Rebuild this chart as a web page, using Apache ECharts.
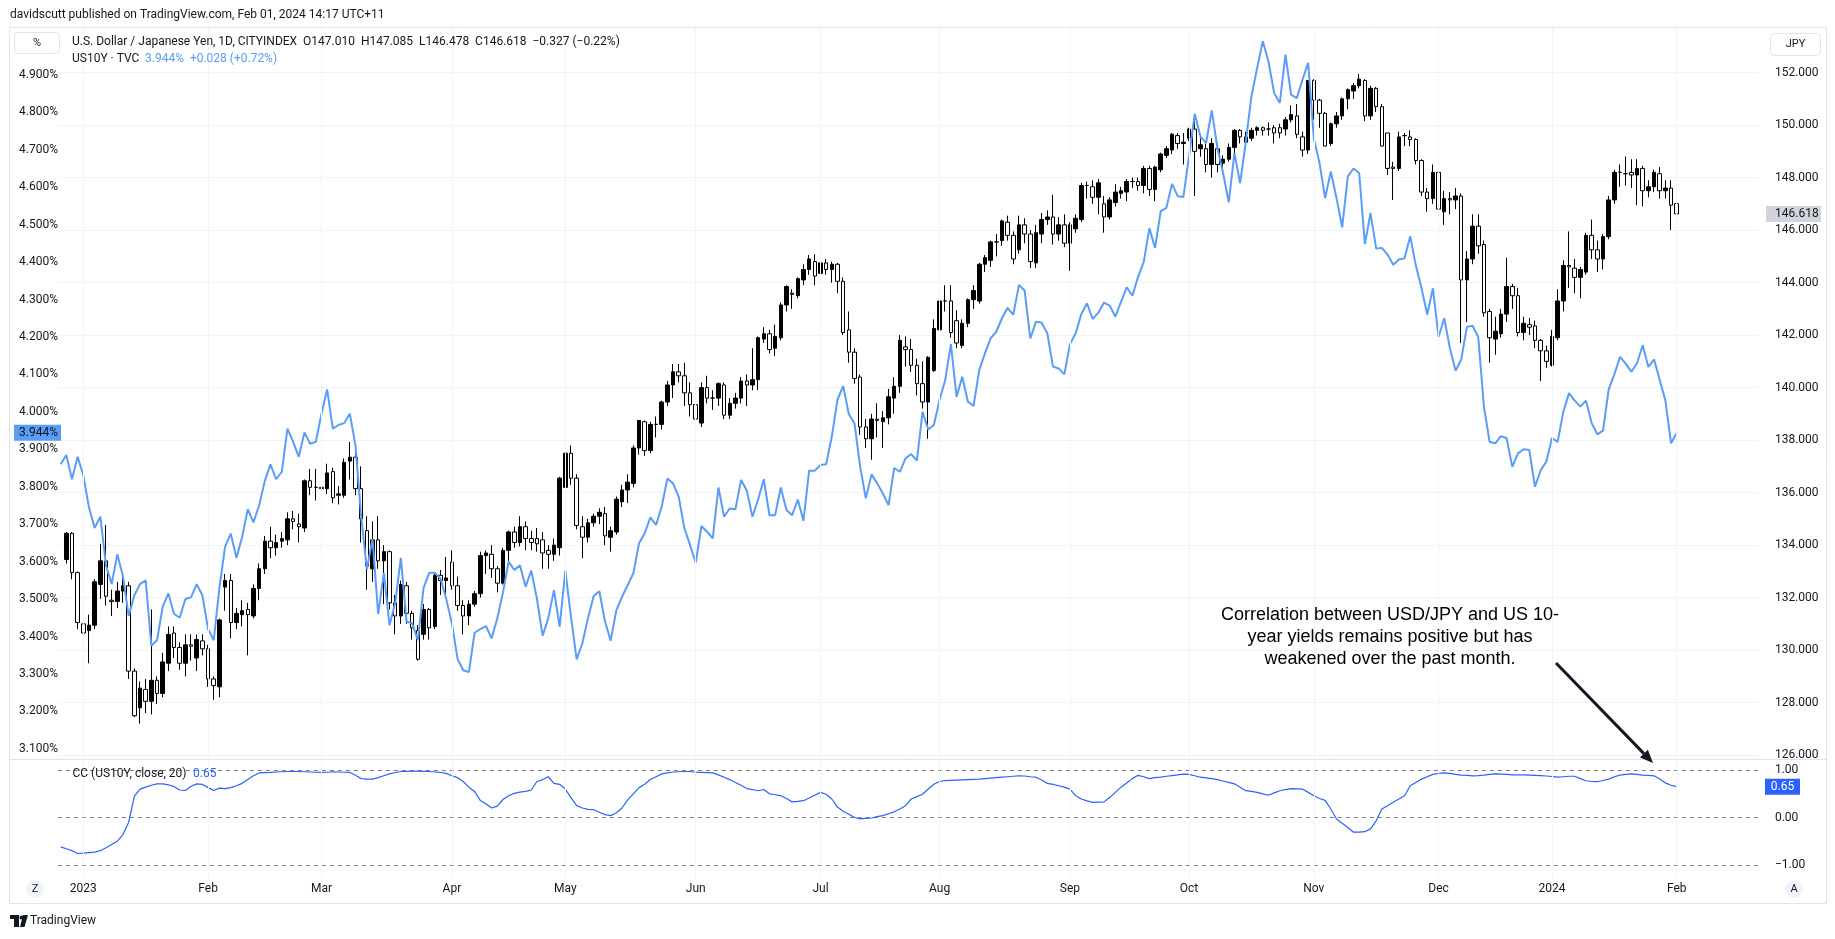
<!DOCTYPE html>
<html><head><meta charset="utf-8">
<script src="https://cdn.jsdelivr.net/npm/echarts@6/dist/echarts.min.js"></script>
<style>html,body{margin:0;padding:0;background:#fff}#c{width:1835px;height:939px}</style>
</head><body><div id="c"></div>
<script>
// ---------- DATA ----------
const firstDate = '2022-12-27';
const categoryCount = 300;
const skipDates = ['2023-12-25', '2024-01-01'];
const monthNames = ['Jan','Feb','Mar','Apr','May','Jun','Jul','Aug','Sep','Oct','Nov','Dec'];
const jpyTicks = [126,128,130,132,134,136,138,140,142,144,146,148,150,152];

// USD/JPY daily candles from 2022-12-28
const jpyOpen = [133.45,134.45,132.95,131.0,130.75,130.95,132.5,133.4,131.9,131.85,
132.25,132.45,129.2,127.8,128.5,128.05,128.85,128.35,129.5,130.65,
130.1,129.5,130.2,129.7,130.35,130.05,128.9,128.6,132.4,132.65,
131.05,131.35,131.55,131.3,132.35,133.1,134.15,133.9,134.15,134.2,
135.0,134.8,134.65,136.45,136.2,136.2,136.15,136.8,135.9,135.9,
137.2,137.35,136.15,134.55,133.1,134.2,133.4,133.75,131.8,131.3,
132.45,131.4,130.75,130.6,131.55,130.9,132.85,132.65,133.35,132.45,
131.7,131.3,131.75,132.15,133.6,133.65,133.1,132.55,133.8,134.5,
134.1,134.7,134.25,134.25,134.2,133.8,133.65,133.9,136.2,137.5,
136.55,134.7,134.3,134.85,135.1,135.2,134.3,134.5,135.65,136.1,
136.35,137.7,138.7,137.6,138.6,138.6,139.45,140.1,140.6,140.45,
139.8,139.35,138.65,140.0,139.6,139.6,140.1,138.95,139.4,139.6,
140.25,140.1,140.3,141.85,142.05,141.5,141.9,143.15,143.6,143.5,
144.1,144.5,144.8,144.35,144.75,144.5,144.7,144.05,142.2,141.35,
140.4,138.5,138.05,138.8,138.7,138.85,139.6,140.05,141.55,141.45,
140.85,140.15,139.45,140.65,142.2,143.3,143.3,142.55,141.6,142.45,
143.35,143.3,144.7,144.85,145.55,145.6,146.3,145.8,145.25,146.2,
145.85,144.75,145.85,146.4,146.5,145.85,146.2,145.5,146.05,146.4,
147.7,147.65,147.25,147.0,146.5,147.05,147.4,147.45,147.85,147.85,
147.7,148.35,147.55,148.3,148.85,149.05,149.6,149.3,149.5,149.85,
149.1,149.1,148.5,149.1,148.55,148.7,149.15,149.8,149.35,149.5,
149.8,149.9,149.85,149.9,149.9,149.85,150.2,150.35,149.55,149.05,
151.7,150.95,150.45,149.3,150.05,150.35,151.0,151.3,151.5,151.7,
150.35,151.4,150.7,149.7,148.4,148.35,149.6,149.55,149.45,148.65,
147.45,147.2,148.2,146.7,147.2,147.15,147.3,144.1,144.9,146.15,
145.45,142.9,141.85,142.05,142.8,143.85,143.5,142.1,142.4,142.35,
141.8,141.4,140.85,141.9,143.3,144.65,144.55,144.2,144.4,145.8,
145.25,144.9,145.75,147.15,148.2,148.15,148.2,148.1,148.35,147.5,
147.65,148.15,147.5,147.6,147.01];
const jpyClose = [134.45,132.95,131.05,130.65,130.95,132.6,133.4,132.05,131.85,132.25,
132.45,129.2,127.5,128.55,128.05,128.85,128.35,129.55,130.6,130.1,
129.5,130.2,130.15,130.4,130.05,128.9,128.65,131.15,132.65,131.05,
131.4,131.5,131.35,132.35,133.1,134.15,133.9,134.1,134.25,135.0,
134.9,134.7,136.45,136.2,136.2,136.15,136.75,135.8,135.95,137.15,
137.35,136.15,135.0,133.2,134.2,133.4,133.75,131.8,131.3,132.5,
131.4,130.85,129.65,131.55,130.85,132.85,132.65,132.75,132.45,131.7,
131.3,131.75,132.15,133.6,133.7,133.1,132.55,133.8,134.5,134.1,
134.7,134.25,134.1,134.05,133.7,133.65,134.0,136.55,137.5,136.55,
134.75,134.3,134.85,135.1,135.25,134.35,134.55,135.75,136.1,136.4,
137.7,138.75,137.6,138.6,138.6,139.45,140.1,140.6,140.45,139.8,
139.35,138.8,140.0,139.6,139.6,140.15,138.95,139.4,139.6,140.25,
140.1,140.3,141.9,142.05,141.45,141.95,143.15,143.85,143.55,144.15,
144.5,144.9,144.25,144.75,144.5,144.7,144.05,142.1,141.35,140.35,
138.5,138.05,138.8,138.75,138.85,139.65,140.05,141.8,141.45,140.85,
140.15,139.45,141.15,142.25,143.3,143.3,142.1,141.7,142.45,143.35,
143.7,144.7,144.95,145.55,145.55,146.35,145.8,144.9,146.2,145.85,
144.8,145.9,146.4,146.5,145.85,146.2,145.5,146.2,146.45,147.7,
147.7,147.25,147.8,146.5,147.15,147.45,147.5,147.85,147.85,147.7,
148.35,147.55,148.4,148.9,149.1,149.65,149.3,149.35,149.85,149.0,
149.25,148.5,149.3,148.5,148.7,149.15,149.8,149.55,149.55,149.8,
149.9,149.8,149.85,149.7,149.7,150.2,150.4,149.65,149.05,151.7,
150.95,150.45,149.2,150.05,150.35,151.0,151.35,151.5,151.75,150.35,
151.4,150.7,149.2,148.35,148.35,149.55,149.6,149.45,148.65,147.45,
147.2,148.2,146.8,147.2,147.15,147.3,144.1,144.9,146.15,145.4,
142.85,141.9,142.15,142.8,143.85,143.5,142.1,142.45,142.3,141.8,
141.4,141.0,141.95,143.3,144.65,144.6,144.2,144.5,145.8,145.25,
144.9,145.75,147.15,148.2,148.2,148.15,148.1,148.35,147.5,147.65,
148.2,147.5,147.6,146.95,146.618];
const jpyLow = [133.3,132.7,130.8,130.5,129.5,130.8,131.95,131.7,131.3,131.6,
131.8,128.9,127.45,127.2,127.6,127.55,127.95,128.2,129.2,129.7,
129.25,129.0,129.6,129.2,129.8,128.6,128.1,128.2,131.5,130.45,
130.8,130.9,129.8,131.2,131.9,132.9,133.5,133.6,133.9,134.0,
134.6,134.1,134.5,135.9,135.7,135.3,135.95,135.6,135.55,135.8,
136.5,135.9,134.1,132.3,132.6,133.1,131.75,131.55,130.6,131.0,
131.0,130.4,129.6,130.4,130.4,130.8,132.1,132.1,132.3,131.5,
130.6,130.95,131.65,132.0,132.9,132.75,132.2,132.5,133.4,133.9,
133.95,133.8,133.8,133.75,133.1,133.1,133.4,133.6,136.1,136.3,
134.6,133.5,134.1,134.7,134.8,134.0,133.75,134.4,135.45,135.6,
136.2,137.45,137.4,137.5,138.1,138.4,139.3,139.6,140.2,139.3,
138.9,138.45,138.5,139.4,139.15,139.3,138.8,138.8,139.2,139.4,
139.3,139.9,139.9,141.7,141.3,141.2,141.8,142.9,143.0,143.4,
143.9,144.3,143.9,144.2,144.3,144.0,143.6,142.0,140.95,140.15,
138.2,137.7,137.25,138.1,137.7,138.6,139.0,139.8,140.8,140.6,
139.7,139.2,138.05,140.6,142.0,142.9,141.9,141.5,141.5,142.3,
143.0,143.2,144.4,144.6,145.0,145.4,145.6,144.7,145.1,145.5,
144.55,144.55,145.5,146.2,145.45,145.6,145.35,144.45,145.9,146.3,
147.2,147.0,146.6,145.9,146.4,146.9,147.2,147.1,147.6,147.5,
147.4,147.3,147.1,148.2,148.75,148.9,149.1,148.5,149.4,147.3,
148.8,148.2,148.0,148.2,148.2,148.6,148.9,149.3,149.2,149.4,
149.6,149.6,149.6,149.3,149.5,149.6,150.1,149.5,148.8,148.9,
150.2,149.9,149.2,149.2,149.9,150.2,150.6,151.0,151.4,150.15,
150.2,150.5,149.2,148.1,147.15,148.25,149.2,149.2,148.5,147.3,
146.7,147.0,146.5,146.2,146.6,146.8,141.7,142.5,144.7,145.1,
142.7,140.95,141.25,141.9,142.5,143.0,141.95,141.8,142.0,141.5,
140.25,140.75,140.8,141.8,142.9,143.8,143.6,143.4,144.3,144.9,
144.4,144.5,145.65,147.0,147.65,147.7,147.6,146.95,146.9,147.25,
147.45,147.2,147.2,146.0,146.478];
const jpyHigh = [134.5,134.5,133.0,131.1,131.35,132.7,134.05,134.77,132.3,132.6,
132.9,132.6,129.3,128.8,128.9,131.55,129.0,129.9,130.9,130.9,
130.3,130.6,130.6,130.6,130.6,130.2,129.0,131.2,132.9,132.9,
131.6,131.9,131.8,132.5,133.3,134.35,134.7,134.4,134.5,135.25,
135.3,135.2,136.5,136.9,136.9,137.05,137.1,136.95,136.25,137.3,
137.93,137.6,137.0,135.1,134.9,135.1,134.0,133.8,132.1,132.65,
132.6,131.5,130.95,131.75,131.6,132.95,133.05,133.55,133.8,132.8,
131.9,131.9,132.25,133.75,133.8,134.0,133.2,133.9,134.55,134.7,
135.1,134.9,134.55,134.65,134.5,134.0,134.25,136.6,137.75,137.8,
136.7,135.1,135.0,135.2,135.4,135.45,134.7,135.85,136.3,136.7,
137.8,138.75,138.75,138.7,138.9,139.5,140.25,140.9,140.9,140.95,
140.2,139.6,140.2,140.45,139.9,140.2,140.2,139.6,139.8,140.4,
140.5,141.5,141.95,142.3,142.2,142.4,143.25,143.9,143.75,144.2,
144.7,145.05,145.08,144.9,144.9,144.8,144.75,144.2,142.9,141.5,
140.5,138.8,139.0,139.4,139.1,139.95,140.4,142.0,141.95,141.85,
141.1,141.0,141.2,142.6,143.55,143.9,143.9,142.95,142.6,143.4,
143.9,144.75,145.05,145.6,145.85,146.4,146.55,145.95,146.55,146.45,
146.0,146.2,146.65,146.75,147.35,146.5,146.6,146.3,146.6,147.8,
147.85,147.9,147.95,147.3,147.25,147.75,147.65,147.95,148.0,148.0,
148.45,148.45,148.45,148.95,149.2,149.7,149.7,149.7,149.9,150.15,
149.5,149.3,149.5,149.3,148.85,149.3,149.85,149.85,149.75,149.9,
149.95,149.95,150.1,150.0,150.05,150.3,150.75,150.8,149.75,151.7,
151.75,151.0,150.5,150.1,150.5,151.05,151.4,151.6,151.95,151.75,
151.5,151.45,150.8,149.7,148.6,149.75,149.7,149.8,149.5,148.7,
147.6,148.5,148.3,147.5,147.45,147.6,147.4,145.2,146.6,146.6,
145.6,143.0,142.7,143.0,144.95,143.95,143.8,142.7,142.65,142.55,
141.85,141.6,142.2,143.75,144.85,145.95,144.9,144.6,145.9,146.4,
145.6,145.85,147.3,148.3,148.5,148.8,148.7,148.7,148.45,147.9,
148.3,148.4,147.9,147.9,147.085];

// US10Y close (%) from 2022-12-27
const us10y = [3.86,3.885,3.82,3.88,3.83,3.745,3.69,3.72,3.59,3.54,
3.62,3.56,3.455,3.51,3.54,3.55,3.375,3.39,3.48,3.515,
3.46,3.45,3.50,3.505,3.54,3.51,3.42,3.39,3.53,3.64,
3.675,3.61,3.665,3.74,3.705,3.75,3.815,3.86,3.82,3.84,
3.955,3.92,3.88,3.945,3.915,3.92,3.995,4.06,3.955,3.965,
3.97,3.995,3.91,3.72,3.58,3.66,3.46,3.57,3.43,3.49,
3.61,3.44,3.435,3.39,3.53,3.57,3.57,3.555,3.50,3.435,
3.34,3.31,3.305,3.41,3.42,3.428,3.395,3.448,3.517,3.60,
3.578,3.59,3.533,3.576,3.50,3.402,3.449,3.524,3.426,3.576,
3.453,3.339,3.382,3.449,3.508,3.521,3.44,3.389,3.47,3.506,
3.537,3.569,3.649,3.676,3.718,3.698,3.747,3.822,3.809,3.773,
3.689,3.644,3.597,3.695,3.68,3.662,3.798,3.72,3.742,3.74,
3.818,3.79,3.72,3.766,3.82,3.724,3.724,3.798,3.738,3.724,
3.766,3.709,3.843,3.843,3.858,3.86,3.934,4.033,4.069,3.994,
3.969,3.853,3.769,3.833,3.809,3.782,3.751,3.85,3.84,3.876,
3.887,3.87,4.0,3.953,3.965,4.032,4.085,4.181,4.04,4.094,
4.027,4.016,4.112,4.156,4.196,4.214,4.25,4.278,4.259,4.339,
4.324,4.196,4.241,4.238,4.21,4.121,4.116,4.10,4.181,4.21,
4.261,4.29,4.248,4.265,4.292,4.284,4.254,4.294,4.333,4.31,
4.36,4.40,4.49,4.438,4.536,4.545,4.609,4.576,4.574,4.683,
4.796,4.736,4.718,4.805,4.705,4.638,4.56,4.691,4.611,4.72,
4.843,4.918,4.99,4.936,4.852,4.825,4.954,4.847,4.838,4.887,
4.932,4.731,4.665,4.571,4.642,4.571,4.493,4.629,4.65,4.638,
4.448,4.531,4.436,4.438,4.42,4.393,4.407,4.41,4.469,4.39,
4.33,4.26,4.33,4.20,4.25,4.17,4.11,4.14,4.227,4.23,
4.20,4.014,3.92,3.916,3.935,3.93,3.853,3.889,3.90,3.898,
3.80,3.844,3.867,3.93,3.92,4.0,4.05,4.03,4.014,4.03,
3.97,3.94,3.95,4.06,4.10,4.147,4.129,4.107,4.13,4.178,
4.12,4.14,4.085,4.03,3.916,3.944];

// CC (US10Y, close, 20) from 2022-12-27
const cc20 = [-0.62,-0.66,-0.70,-0.76,-0.75,-0.74,-0.73,-0.70,-0.64,-0.57,
-0.50,-0.36,-0.10,0.45,0.60,0.64,0.68,0.71,0.71,0.69,
0.65,0.58,0.57,0.66,0.71,0.70,0.63,0.57,0.62,0.61,
0.63,0.67,0.72,0.80,0.88,0.94,0.945,0.95,0.96,0.965,
0.97,0.97,0.97,0.965,0.96,0.955,0.95,0.955,0.965,0.96,
0.955,0.95,0.89,0.82,0.81,0.81,0.84,0.88,0.92,0.95,
0.97,0.975,0.98,0.98,0.975,0.97,0.96,0.95,0.93,0.88,
0.84,0.76,0.64,0.55,0.36,0.29,0.20,0.24,0.38,0.46,
0.51,0.535,0.55,0.58,0.76,0.80,0.86,0.72,0.70,0.60,
0.42,0.25,0.20,0.17,0.165,0.11,0.06,0.04,0.10,0.20,
0.37,0.50,0.63,0.70,0.80,0.86,0.92,0.94,0.96,0.965,
0.97,0.97,0.955,0.95,0.945,0.94,0.90,0.85,0.80,0.74,
0.68,0.61,0.59,0.565,0.59,0.50,0.48,0.46,0.40,0.33,
0.34,0.355,0.41,0.47,0.53,0.49,0.39,0.22,0.13,0.07,
0.00,-0.03,-0.02,-0.01,0.02,0.04,0.08,0.12,0.18,0.25,
0.39,0.44,0.49,0.60,0.70,0.76,0.78,0.785,0.79,0.795,
0.80,0.805,0.81,0.82,0.83,0.84,0.85,0.86,0.87,0.88,
0.875,0.86,0.85,0.79,0.72,0.70,0.67,0.64,0.60,0.46,
0.39,0.35,0.32,0.325,0.33,0.42,0.53,0.64,0.73,0.82,
0.89,0.86,0.82,0.84,0.85,0.87,0.885,0.90,0.915,0.91,
0.88,0.85,0.835,0.82,0.80,0.77,0.74,0.71,0.64,0.565,
0.55,0.53,0.50,0.47,0.52,0.565,0.59,0.61,0.605,0.60,
0.53,0.46,0.40,0.36,0.18,-0.03,-0.12,-0.21,-0.31,-0.31,
-0.30,-0.24,-0.07,0.18,0.25,0.32,0.39,0.46,0.67,0.74,
0.81,0.86,0.91,0.93,0.94,0.93,0.91,0.895,0.89,0.88,
0.885,0.895,0.91,0.92,0.915,0.91,0.90,0.90,0.90,0.895,
0.89,0.885,0.875,0.865,0.85,0.86,0.87,0.87,0.82,0.775,
0.76,0.755,0.78,0.81,0.86,0.895,0.91,0.92,0.91,0.895,
0.89,0.88,0.81,0.73,0.68,0.65];

// ---------- BUILD ----------
function buildDates() {
  const out = [];
  const p = firstDate.split('-').map(Number);
  const d = new Date(Date.UTC(p[0], p[1] - 1, p[2]));
  while (out.length < categoryCount) {
    const wd = d.getUTCDay();
    const s = d.toISOString().slice(0, 10);
    if (wd !== 0 && wd !== 6 && skipDates.indexOf(s) < 0) out.push(s);
    d.setUTCDate(d.getUTCDate() + 1);
  }
  return out;
}
const dates = buildDates();
const monthStart = dates.map((d, k) => k > 0 && d.slice(5, 7) !== dates[k - 1].slice(5, 7));
function monthLabel(d) { const m = +d.slice(5, 7) - 1; return m === 0 ? d.slice(0, 4) : monthNames[m]; }

const candleData = ['-'].concat(jpyOpen.map((o, k) => {
  const c = jpyClose[k];
  return [o, c, Math.min(jpyLow[k], o, c), Math.max(jpyHigh[k], o, c)];
}));

const FONT = 'Roboto, "Noto Sans", sans-serif';
const TXT = '#131722';
const BAR = 5.6705;
const LEFT = 57.8;
const GW = BAR * categoryCount;

function catAxis(gridIndex, showLabels) {
  return {
    type: 'category', gridIndex: gridIndex, data: dates, boundaryGap: true,
    axisLine: {show: false}, axisTick: {show: false}, splitLine: {show: false},
    axisLabel: showLabels ? {
      show: true, interval: (i) => monthStart[i], formatter: (v) => monthLabel(v),
      color: TXT, fontSize: 12, fontFamily: FONT, margin: 18
    } : {show: false}
  };
}

const option = {
  backgroundColor: '#ffffff',
  animation: false,
  textStyle: {fontFamily: FONT},
  grid: [
    {left: LEFT, top: 37.46, width: GW, height: 711.36, outerBoundsMode: 'none', containLabel: false},
    {left: LEFT, top: 46.35, width: GW, height: 708.75, outerBoundsMode: 'none', containLabel: false},
    {left: LEFT, top: 770.1, width: GW, height: 94.8, outerBoundsMode: 'none', containLabel: false},
    {left: LEFT, top: 27, width: GW, height: 851, outerBoundsMode: 'none', containLabel: false}
  ],
  xAxis: [catAxis(0, false), catAxis(1, false), catAxis(2, true), catAxis(3, false)],
  yAxis: [
    {type: 'value', gridIndex: 0, position: 'left', min: 3.1, max: 5.0, interval: 0.1,
     axisLine: {show: false}, axisTick: {show: false}, splitLine: {show: false},
     axisLabel: {color: TXT, fontSize: 12, fontFamily: FONT, align: 'left', margin: 38.8,
       formatter: (v) => v > 4.95 ? '' : v.toFixed(3) + '%'}},
    {type: 'value', gridIndex: 1, position: 'right', min: 126, max: 153, interval: 2,
     axisLine: {show: false}, axisTick: {show: false},
     splitLine: {show: true, showMaxLine: false, lineStyle: {color: '#f0f3fa', width: 1}},
     axisLabel: {color: TXT, fontSize: 12, fontFamily: FONT, align: 'left', margin: 16, showMaxLabel: false,
       formatter: (v) => v > 152.5 ? '' : v.toFixed(3)}},
    {type: 'value', gridIndex: 2, position: 'right', min: -1, max: 1, interval: 1,
     axisLine: {show: false}, axisTick: {show: false},
     splitLine: {show: true, lineStyle: {color: '#787b86', width: 1, type: [4, 4]}},
     axisLabel: {color: TXT, fontSize: 12, fontFamily: FONT, align: 'left', margin: 16,
       formatter: (v) => (v < 0 ? '\u2212' : '') + Math.abs(v).toFixed(2)}},
    {type: 'value', gridIndex: 3, min: 0, max: 1, show: false}
  ],
  series: [
    {type: 'line', xAxisIndex: 3, yAxisIndex: 3, data: [], z: 0, silent: true,
     markLine: {silent: true, symbol: ['none', 'none'], label: {show: false}, animation: false,
       lineStyle: {color: '#f0f3fa', width: 1, type: 'solid'},
       emphasis: {disabled: true},
       data: dates.filter((d, k) => monthStart[k]).map((d) => ({xAxis: d}))}},
    {type: 'candlestick', name: 'USDJPY', xAxisIndex: 1, yAxisIndex: 1, data: candleData,
     barWidth: 4, z: 3,
     itemStyle: {color: '#000000', color0: '#ffffff', borderColor: '#000000', borderColor0: '#000000', borderWidth: 1}},
    {type: 'line', name: 'US10Y', xAxisIndex: 0, yAxisIndex: 0, data: us10y, z: 4,
     symbol: 'none', showSymbol: false, lineStyle: {color: '#5b9cf6', width: 2}},
    {type: 'line', name: 'CC', xAxisIndex: 2, yAxisIndex: 2, data: cc20, z: 4,
     symbol: 'none', showSymbol: false, lineStyle: {color: '#2962ff', width: 1.2}}
  ]
};

const chart = echarts.init(document.getElementById('c'), null, {renderer: 'canvas', width: 1835, height: 939});
chart.setOption(option);

const yL = chart.convertToPixel({yAxisIndex: 0}, us10y[us10y.length - 1]);
const yP = chart.convertToPixel({yAxisIndex: 1}, jpyClose[jpyClose.length - 1]);
const yC = chart.convertToPixel({yAxisIndex: 2}, cc20[cc20.length - 1]);

function txt(x, y, s, opt) {
  opt = opt || {};
  return {type: 'text', x: x, y: y, z: 100, silent: true,
    style: {text: s, font: opt.font || ('12px ' + FONT), fill: opt.fill || TXT,
      textAlign: opt.align || 'left', textVerticalAlign: 'middle', align: opt.align || 'left', verticalAlign: 'middle'}};
}
function line(x1, y1, x2, y2, color, w) {
  return {type: 'line', z: 90, silent: true, shape: {x1: x1, y1: y1, x2: x2, y2: y2},
    style: {stroke: color || '#e0e3eb', lineWidth: w || 1}};
}
function rect(x, y, w, h, fill, stroke, r) {
  return {type: 'rect', z: 95, silent: true, shape: {x: x, y: y, width: w, height: h, r: r || 0},
    style: {fill: fill, stroke: stroke || null, lineWidth: stroke ? 1 : 0}};
}

// arrow geometry
const ax1 = 1556, ay1 = 663, ax2 = 1653, ay2 = 763;
const adx = ax2 - ax1, ady = ay2 - ay1, alen = Math.sqrt(adx * adx + ady * ady);
const ux = adx / alen, uy = ady / alen;
const bx = ax2 - 13 * ux, by = ay2 - 13 * uy;
const px = -uy, py = ux;

const ANN = '18px "Liberation Sans", Arial, sans-serif';
chart.setOption({graphic: {elements: [
  line(9.5, 27.5, 1826.5, 27.5),
  line(9.5, 27.5, 9.5, 903.5),
  line(1826.5, 27.5, 1826.5, 903.5),
  line(9.5, 903.5, 1826.5, 903.5),
  line(9.5, 759.5, 1826.5, 759.5),
  txt(10, 15, 'davidscutt published on TradingView.com, Feb 01, 2024 14:17 UTC+11', {font: '12px ' + FONT}),
  rect(14.5, 32.5, 45, 21, '#ffffff', '#e0e3eb', 4),
  txt(37, 43, '%', {align: 'center', font: '11px ' + FONT, fill: '#131722'}),
  txt(72, 41.5, 'U.S. Dollar / Japanese Yen, 1D, CITYINDEX  O147.010  H147.085  L146.478  C146.618  \u22120.327 (\u22120.22%)'),
  txt(72, 59, 'US10Y \u00b7 TVC'),
  txt(145, 59, '3.944%  +0.028 (+0.72%)', {fill: '#5b9cf6'}),
  rect(1770.5, 33.5, 50, 22, '#ffffff', '#e0e3eb', 4),
  txt(1795.5, 44.5, 'JPY', {align: 'center', font: '11px ' + FONT}),
  rect(14, yL - 8, 47, 16, '#5b9cf6'),
  txt(19, yL, '3.944%'),
  rect(1766, yP - 8, 55, 16, '#d1d4dc'),
  txt(1775, yP, '146.618'),
  rect(1765, yC - 8, 35, 16, '#2962ff'),
  txt(1782.5, yC, '0.65', {align: 'center', fill: '#ffffff'}),
  txt(72.5, 774, 'CC (US10Y, close, 20)'),
  txt(193, 774, '0.65', {fill: '#2962ff'}),
  txt(1390, 615, 'Correlation between USD/JPY and US 10-', {align: 'center', font: ANN, fill: '#000000'}),
  txt(1390, 637, 'year yields remains positive but has', {align: 'center', font: ANN, fill: '#000000'}),
  txt(1390, 659, 'weakened over the past month.', {align: 'center', font: ANN, fill: '#000000'}),
  {type: 'line', z: 96, silent: true, shape: {x1: ax1, y1: ay1, x2: bx, y2: by}, style: {stroke: '#131722', lineWidth: 3}},
  {type: 'polygon', z: 96, silent: true, shape: {points: [[ax2, ay2], [bx + 5.5 * px, by + 5.5 * py], [bx - 5.5 * px, by - 5.5 * py]]}, style: {fill: '#131722'}},
  {type: 'circle', z: 95, silent: true, shape: {cx: 35, cy: 889, r: 9}, style: {fill: '#f0f3fa'}},
  txt(35, 889, 'Z', {align: 'center', font: '11px ' + FONT, fill: '#131722'}),
  {type: 'circle', z: 95, silent: true, shape: {cx: 1794, cy: 889, r: 9}, style: {fill: '#f0f3fa'}},
  txt(1794, 889, 'A', {align: 'center', font: '11px ' + FONT, fill: '#131722'}),
  rect(10, 915, 9, 4, '#131722'),
  rect(14, 915, 5, 12, '#131722'),
  {type: 'circle', z: 95, silent: true, shape: {cx: 21.5, cy: 917.5, r: 2}, style: {fill: '#131722'}},
  {type: 'polygon', z: 95, silent: true, shape: {points: [[23, 915], [28, 915], [24.5, 927], [20, 927]]}, style: {fill: '#131722'}},
  txt(30, 921, 'TradingView', {font: '12px ' + FONT})
]}});
</script></body></html>
